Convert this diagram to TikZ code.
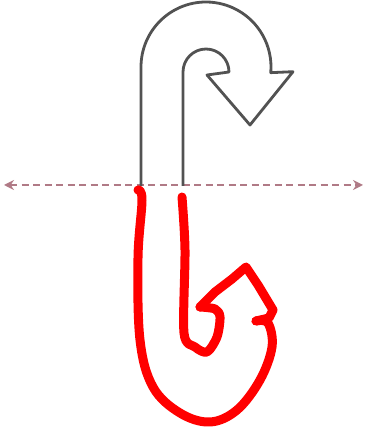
\documentclass[tikz,border=0pt]{standalone}
\usepackage{tikz}
\usetikzlibrary{arrows.meta}
\definecolor{axiscol}{HTML}{B07A86}

\begin{document}
\begin{tikzpicture}[
    x=1pt, y=1pt,
    hookline/.style={draw=black!68, line width=2.8pt, line join=round},
    mirrorline/.style={draw=axiscol, line width=2.2pt, dash pattern=on 7pt off 4.5pt,
        {Stealth[length=10pt,width=10pt]}-{Stealth[length=10pt,width=10pt]}},
    redline/.style={draw=red, line width=9pt, line cap=round, line join=round}
]
\useasboundingbox (0,0) rectangle (365,433);

% mirror axis
\coordinate (axisL) at (4,248);
\coordinate (axisR) at (363,248);
\draw[mirrorline] (axisL) -- (axisR);

% gray u-turn arrow above the axis
\draw[hookline] (141,247) -- (141,366) arc[start angle=180, end angle=-5, radius=65pt]
    -- (293,361.3) -- (250,308) -- (207,358) -- (229,361)
    arc[start angle=0, end angle=180, radius=23pt] -- (183,247);

% red reflection drawn by hand
\draw[redline] plot[smooth, tension=0.6] coordinates {(138,243) (142,233) (138,175) (140,93)
    (153,46) (180,20) (210,11) (237,23) (260,53) (272,86) (268,110) (256,112)};
\draw[redline] plot[smooth, tension=0.5] coordinates {(182,236) (185,183) (184,100)
    (195,86) (207,81) (217,96) (220,116) (215,124) (200,126)};
\draw[redline] (200,126) -- (215,141) -- (232,154) -- (246,166) -- (258,148) -- (273,123) -- (269,115) -- (256,112);
\end{tikzpicture}
\end{document}
